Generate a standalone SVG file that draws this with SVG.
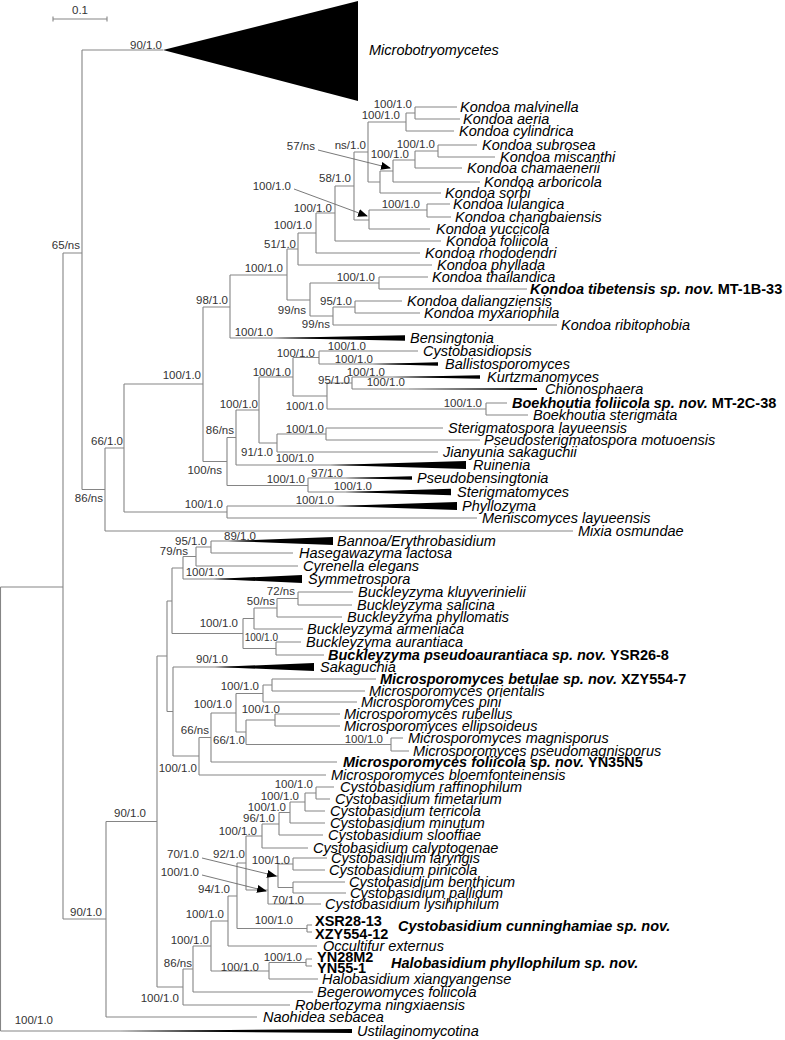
<svg xmlns="http://www.w3.org/2000/svg" width="785" height="1040" viewBox="0 0 785 1040">
<style>
.br{fill:none;stroke:#858585;stroke-width:1.1}
.ar{fill:none;stroke:#6a6a6a;stroke-width:0.9}
.w{fill:#000}
text{font-family:"Liberation Sans",Arial,sans-serif}
.sp{font-size:14.5px;font-style:italic;fill:#000}
.b{font-weight:bold}
.up{font-style:normal}
.s{font-size:11.5px;fill:#333;text-anchor:end}
.ss{font-size:10px;fill:#333;text-anchor:end}
</style>
<defs>
<marker id="ah" markerWidth="10" markerHeight="8" refX="9" refY="4" orient="auto" markerUnits="userSpaceOnUse">
<path d="M0,0 L10,4 L0,8 Z" fill="#000"/>
</marker>
</defs>
<rect width="785" height="1040" fill="#fff"/>
<g id="scalebar">
<path class="br" d="M53,19 H107 M53,16.5 V21.5 M107,16.5 V21.5"/>
<text x="80" y="14" font-size="11.5" fill="#333" text-anchor="middle">0.1</text>
</g>
<g id="connectors">
<path class="br" d="M0.5,587 V1031 M0.5,587 H63 M0.5,1031 H352
M63,253 V919 M63,253 H82 M63,919 H106
M82,50 V489.5 M82,50 H163 M82,489.5 H105
M105,448 V531 M105,448 H124 M105,531 H573
M124,384 V512 M124,384 H203 M124,512 H227
M227,506 V518 M227,506 H457 M227,518 H477
M203,307 V461.5 M203,307 H230 M203,461.5 H227
M227,437.5 V485.5 M227,437.5 H236 M227,485.5 H308
M308,478 V492 M308,478 H412 M308,492 H451
M236,410 V465 M236,410 H259 M236,465 H466
M259,377 V443 M259,377 H293 M259,443 H277
M277,434 V452 M277,434 H326 M277,452 H438
M326,428 V440 M326,428 H443 M326,440 H480
M293,357.5 V396 M293,357.5 H319 M293,396 H327
M319,351 V364 M319,351 H418 M319,364 H438
M327,383 V409 M327,383 H352 M327,409 H486
M352,377 V389 M352,377 H480 M352,389 H537
M486,403 V415 M486,403 H507 M486,415 H528
M230,275 V338 M230,275 H287 M230,338 H405
M287,249 V300 M287,249 H298 M287,300 H310
M310,283 V316 M310,283 H379 M310,316 H333
M379,277 V289 M379,277 H428 M379,289 H527
M333,307 V325 M333,307 H355 M333,325 H557
M355,301 V313 M355,301 H402 M355,313 H420
M298,233 V265 M298,233 H316 M298,265 H432
M316,213 V253 M316,213 H335 M316,253 H420
M335,186 V241 M335,186 H354 M335,241 H441
M354,152 V220 M354,152 H368 M354,220 H369
M369,210 V229 M369,210 H427 M369,229 H430
M427,204 V217 M427,204 H450 M427,217 H451
M368,122 V182 M368,122 H406 M368,182 H380
M406,113 V131 M406,113 H415 M406,131 H454
M415,107 V119 M415,107 H457 M415,119 H460
M380,171 V193 M380,171 H393 M380,193 H441
M393,160 V182 M393,160 H415 M393,182 H480
M415,151 V168 M415,151 H438 M415,168 H462
M438,145 V157 M438,145 H477 M438,157 H495
M106,821.5 V1017 M106,821.5 H157 M106,1017 H257
M157,656 V987 M157,656 H167 M157,987 H183
M167,601 V711.5 M167,601 H172 M167,711.5 H173
M172,568 V633.5 M172,568 H183 M172,633.5 H243
M183,556.5 V579 M183,556.5 H196 M183,579 H302
M196,547 V566 M196,547 H211 M196,566 H298
M211,541 V553 M211,541 H333 M211,553 H293
M243,618.5 V648.5 M243,618.5 H254 M243,648.5 H276
M254,608 V629 M254,608 H277 M254,629 H303
M277,598.5 V617 M277,598.5 H298 M277,617 H342
M298,592 V605 M298,592 H353 M298,605 H352
M276,642 V655 M276,642 H301 M276,655 H324
M173,667 V756 M173,667 H314 M173,756 H199
M199,737.5 V775 M199,737.5 H211 M199,775 H326
M211,713 V762 M211,713 H236 M211,762 H337
M236,693.5 V732 M236,693.5 H263 M236,732 H246
M263,685 V702 M263,685 H272 M263,702 H357
M272,679 V691 M272,679 H376 M272,691 H365
M246,720 V744.5 M246,720 H275 M246,744.5 H391
M275,714 V726 M275,714 H340 M275,726 H340
M391,738 V751 M391,738 H403 M391,751 H409
M183,969 V1005 M183,969 H193 M183,1005 H290
M193,946 V992 M193,946 H211 M193,992 H313
M211,921 V971 M211,921 H228 M211,971 H269
M269,962.5 V979 M269,962.5 H306 M269,979 H318
M306,959 V966 M306,959 H312 M306,966 H312
M228,896 V946 M228,896 H237 M228,946 H317
M237,863 V928.5 M237,863 H246 M237,928.5 H307
M307,925 V932 M307,925 H312 M307,932 H312
M246,836 V890 M246,836 H262 M246,890 H268
M262,824 V848 M262,824 H279 M262,848 H308
M279,812.5 V835 M279,812.5 H290 M279,835 H323
M290,802 V823 M290,802 H305 M290,823 H325
M305,793 V811 M305,793 H316 M305,811 H325
M316,787 V799 M316,787 H334 M316,799 H330
M268,876 V904 M268,876 H278 M268,904 H321
M278,864 V887.5 M278,864 H293 M278,887.5 H293
M293,858 V870 M293,858 H327 M293,870 H325
M293,882 V893 M293,882 H345 M293,893 H346"/>
<path class="ar" marker-end="url(#ah)" d="M318,150 L390,168"/>
<path class="ar" marker-end="url(#ah)" d="M294,189 L367,216"/>
<path class="ar" marker-end="url(#ah)" d="M202,858 L276,876"/>
<path class="ar" marker-end="url(#ah)" d="M202,875 L266,891"/>
</g>
<g id="wedges">
<polygon class="w" points="163,50 358,1 358,101"/>
<polygon class="w" points="272,338 405,335.3 405,340.7"/>
<polygon class="w" points="372,364 438,362.3 438,365.7"/>
<polygon class="w" points="392,377 480,375.2 480,378.8"/>
<polygon class="w" points="405,389 537,388 537,390"/>
<polygon class="w" points="330,465 466,461 466,469"/>
<polygon class="w" points="345,478 412,476.2 412,479.8"/>
<polygon class="w" points="345,492 451,488.7 451,495.3"/>
<polygon class="w" points="335,506 457,502 457,510"/>
<polygon class="w" points="228,541 333,537 333,545"/>
<polygon class="w" points="213,579 302,575 302,583"/>
<polygon class="w" points="215,667 314,663 314,671"/>
<polygon class="w" points="120,1031 352,1029 352,1033"/>
</g>
<g id="tips">
<g id="t-microbotryomycetes"><text class="sp" x="369" y="55">Microbotryomycetes</text></g>
<g id="t-malvinella"><text class="sp" x="460" y="112">Kondoa malvinella</text></g>
<g id="t-aeria"><text class="sp" x="463" y="124">Kondoa aeria</text></g>
<g id="t-cylindrica"><text class="sp" x="459" y="136">Kondoa cylindrica</text></g>
<g id="t-subrosea"><text class="sp" x="482" y="150">Kondoa subrosea</text></g>
<g id="t-miscanthi"><text class="sp" x="500" y="162">Kondoa miscanthi</text></g>
<g id="t-chamaenerii"><text class="sp" x="467" y="173">Kondoa chamaenerii</text></g>
<g id="t-arboricola"><text class="sp" x="484" y="187">Kondoa arboricola</text></g>
<g id="t-sorbi"><text class="sp" x="445" y="198">Kondoa sorbi</text></g>
<g id="t-lulangica"><text class="sp" x="453" y="209">Kondoa lulangica</text></g>
<g id="t-changbaiensis"><text class="sp" x="455" y="222">Kondoa changbaiensis</text></g>
<g id="t-yuccicola"><text class="sp" x="436" y="234">Kondoa yuccicola</text></g>
<g id="t-foliicola"><text class="sp" x="446" y="246">Kondoa foliicola</text></g>
<g id="t-rhododendri"><text class="sp" x="425" y="258">Kondoa rhododendri</text></g>
<g id="t-phyllada"><text class="sp" x="437" y="270">Kondoa phyllada</text></g>
<g id="t-thailandica"><text class="sp" x="432" y="282">Kondoa thailandica</text></g>
<g id="t-tibetensis"><text class="sp b" x="530" y="294">Kondoa tibetensis sp. nov. <tspan class="up">MT-1B-33</tspan></text></g>
<g id="t-daliangziensis"><text class="sp" x="407" y="306">Kondoa daliangziensis</text></g>
<g id="t-myxariophila"><text class="sp" x="424" y="318">Kondoa myxariophila</text></g>
<g id="t-ribitophobia"><text class="sp" x="561" y="330">Kondoa ribitophobia</text></g>
<g id="t-bensingtonia"><text class="sp" x="410" y="343">Bensingtonia</text></g>
<g id="t-cystobasidiopsis"><text class="sp" x="423" y="356">Cystobasidiopsis</text></g>
<g id="t-ballistosporomyces"><text class="sp" x="445" y="369">Ballistosporomyces</text></g>
<g id="t-kurtzmanomyces"><text class="sp" x="487" y="382">Kurtzmanomyces</text></g>
<g id="t-chionosphaera"><text class="sp" x="545" y="394">Chionosphaera</text></g>
<g id="t-boekhoutia-foliicola"><text class="sp b" x="512" y="408">Boekhoutia foliicola sp. nov. <tspan class="up">MT-2C-38</tspan></text></g>
<g id="t-boekhoutia-sterigmata"><text class="sp" x="533" y="420">Boekhoutia sterigmata</text></g>
<g id="t-sterigmatospora"><text class="sp" x="448" y="433">Sterigmatospora layueensis</text></g>
<g id="t-pseudosterigmatospora"><text class="sp" x="484" y="445">Pseudosterigmatospora motuoensis</text></g>
<g id="t-jianyunia"><text class="sp" x="443" y="457">Jianyunia sakaguchii</text></g>
<g id="t-ruinenia"><text class="sp" x="473" y="470">Ruinenia</text></g>
<g id="t-pseudobensingtonia"><text class="sp" x="417" y="483">Pseudobensingtonia</text></g>
<g id="t-sterigmatomyces"><text class="sp" x="457" y="497">Sterigmatomyces</text></g>
<g id="t-phyllozyma"><text class="sp" x="462" y="511">Phyllozyma</text></g>
<g id="t-meniscomyces"><text class="sp" x="482" y="523">Meniscomyces layueensis</text></g>
<g id="t-mixia"><text class="sp" x="578" y="536">Mixia osmundae</text></g>
<g id="t-bannoa"><text class="sp" x="337" y="546">Bannoa/Erythrobasidium</text></g>
<g id="t-hasegawazyma"><text class="sp" x="299" y="558">Hasegawazyma lactosa</text></g>
<g id="t-cyrenella"><text class="sp" x="303" y="571">Cyrenella elegans</text></g>
<g id="t-symmetrospora"><text class="sp" x="308" y="584">Symmetrospora</text></g>
<g id="t-kluyverinielii"><text class="sp" x="358" y="597">Buckleyzyma kluyverinielii</text></g>
<g id="t-salicina"><text class="sp" x="357" y="610">Buckleyzyma salicina</text></g>
<g id="t-phyllomatis"><text class="sp" x="347" y="622">Buckleyzyma phyllomatis</text></g>
<g id="t-armeniaca"><text class="sp" x="307" y="634">Buckleyzyma armeniaca</text></g>
<g id="t-aurantiaca"><text class="sp" x="306" y="647">Buckleyzyma aurantiaca</text></g>
<g id="t-pseudoaurantiaca"><text class="sp b" x="328" y="660">Buckleyzyma pseudoaurantiaca sp. nov. <tspan class="up">YSR26-8</tspan></text></g>
<g id="t-sakaguchia"><text class="sp" x="320" y="672">Sakaguchia</text></g>
<g id="t-betulae"><text class="sp b" x="380" y="684">Microsporomyces betulae sp. nov. <tspan class="up">XZY554-7</tspan></text></g>
<g id="t-orientalis"><text class="sp" x="369" y="696">Microsporomyces orientalis</text></g>
<g id="t-pini"><text class="sp" x="361" y="707">Microsporomyces pini</text></g>
<g id="t-rubellus"><text class="sp" x="344" y="719">Microsporomyces rubellus</text></g>
<g id="t-ellipsoideus"><text class="sp" x="344" y="731">Microsporomyces ellipsoideus</text></g>
<g id="t-magnisporus"><text class="sp" x="408" y="743">Microsporomyces magnisporus</text></g>
<g id="t-pseudomagnisporus"><text class="sp" x="413" y="756">Microsporomyces pseudomagnisporus</text></g>
<g id="t-m-foliicola"><text class="sp b" x="343" y="767">Microsporomyces foliicola  sp. nov. <tspan class="up">YN35N5</tspan></text></g>
<g id="t-bloemfonteinensis"><text class="sp" x="331" y="780">Microsporomyces bloemfonteinensis</text></g>
<g id="t-raffinophilum"><text class="sp" x="340" y="792">Cystobasidium raffinophilum</text></g>
<g id="t-fimetarium"><text class="sp" x="335" y="804">Cystobasidium fimetarium</text></g>
<g id="t-terricola"><text class="sp" x="330" y="816">Cystobasidium terricola</text></g>
<g id="t-minutum"><text class="sp" x="330" y="828">Cystobasidium minutum</text></g>
<g id="t-slooffiae"><text class="sp" x="328" y="840">Cystobasidium slooffiae</text></g>
<g id="t-calyptogenae"><text class="sp" x="313" y="853">Cystobasidium calyptogenae</text></g>
<g id="t-laryngis"><text class="sp" x="331" y="863">Cystobasidium laryngis</text></g>
<g id="t-pinicola"><text class="sp" x="329" y="875">Cystobasidium pinicola</text></g>
<g id="t-benthicum"><text class="sp" x="349" y="887">Cystobasidium benthicum</text></g>
<g id="t-pallidum"><text class="sp" x="350" y="898">Cystobasidium pallidum</text></g>
<g id="t-lysihiphilum"><text class="sp" x="325" y="909">Cystobasidium lysihiphilum</text></g>
<g id="t-xsr"><text class="sp b up" x="315" y="926">XSR28-13</text><text class="sp b up" x="315" y="939">XZY554-12</text><text class="sp b" x="398" y="931">Cystobasidium cunninghamiae sp. nov.</text></g>
<g id="t-occultifur"><text class="sp" x="323" y="951">Occultifur externus</text></g>
<g id="t-yn"><text class="sp b up" x="317" y="962">YN28M2</text><text class="sp b up" x="317" y="973">YN55-1</text><text class="sp b" x="391" y="968">Halobasidium phyllophilum  sp. nov.</text></g>
<g id="t-xiangyangense"><text class="sp" x="322" y="984">Halobasidium xiangyangense</text></g>
<g id="t-begerowomyces"><text class="sp" x="317" y="997">Begerowomyces foliicola</text></g>
<g id="t-robertozyma"><text class="sp" x="295" y="1010">Robertozyma ningxiaensis</text></g>
<g id="t-naohidea"><text class="sp" x="263" y="1022">Naohidea sebacea</text></g>
<g id="t-ustilaginomycotina"><text class="sp" x="357" y="1036">Ustilaginomycotina</text></g>
</g>
<g id="supports">
<text class="s" x="162" y="49">90/1.0</text>
<text class="s" x="80" y="249">65/ns</text>
<text class="s" x="412" y="108">100/1.0</text>
<text class="s" x="400" y="119">100/1.0</text>
<text class="s" x="435" y="148">100/1.0</text>
<text class="s" x="366" y="149">ns/1.0</text>
<text class="s" x="409" y="158">100/1.0</text>
<text class="s" x="315" y="150">57/ns</text>
<text class="s" x="351" y="182">58/1.0</text>
<text class="s" x="291" y="190">100/1.0</text>
<text class="s" x="420" y="208">100/1.0</text>
<text class="s" x="332" y="212">100/1.0</text>
<text class="s" x="312" y="229">100/1.0</text>
<text class="s" x="296" y="248">51/1.0</text>
<text class="s" x="283" y="272">100/1.0</text>
<text class="s" x="375" y="281">100/1.0</text>
<text class="s" x="352" y="305">95/1.0</text>
<text class="s" x="306" y="314">99/ns</text>
<text class="s" x="330" y="328">99/ns</text>
<text class="s" x="228" y="304">98/1.0</text>
<text class="s" x="273" y="336">100/1.0</text>
<text class="s" x="366" y="350">100/1.0</text>
<text class="s" x="315" y="357">100/1.0</text>
<text class="s" x="373" y="363">100/1.0</text>
<text class="s" x="291" y="376">100/1.0</text>
<text class="s" x="385" y="376">100/1.0</text>
<text class="s" x="350" y="384">95/1.0</text>
<text class="s" x="201" y="379">100/1.0</text>
<text class="s" x="405" y="386">100/1.0</text>
<text class="s" x="258" y="408">100/1.0</text>
<text class="s" x="482" y="407">100/1.0</text>
<text class="s" x="324" y="410">100/1.0</text>
<text class="s" x="234" y="434">86/ns</text>
<text class="s" x="324" y="433">100/1.0</text>
<text class="s" x="123" y="445">66/1.0</text>
<text class="s" x="273" y="456">91/1.0</text>
<text class="s" x="314" y="462">100/1.0</text>
<text class="s" x="222" y="474">100/ns</text>
<text class="s" x="343" y="477">97/1.0</text>
<text class="s" x="305" y="483">100/1.0</text>
<text class="s" x="372" y="490">100/1.0</text>
<text class="s" x="103" y="502">86/ns</text>
<text class="s" x="334" y="504">100/1.0</text>
<text class="s" x="223" y="508">100/1.0</text>
<text class="s" x="256" y="540">89/1.0</text>
<text class="s" x="207" y="545">95/1.0</text>
<text class="s" x="188" y="555">79/ns</text>
<text class="s" x="224" y="576">100/1.0</text>
<text class="s" x="295" y="595">72/ns</text>
<text class="s" x="275" y="605">50/ns</text>
<text class="s" x="238" y="627">100/1.0</text>
<text class="ss" x="278" y="641">100/1.0</text>
<text class="s" x="228" y="663">90/1.0</text>
<text class="s" x="259" y="690">100/1.0</text>
<text class="s" x="232" y="708">100/1.0</text>
<text class="s" x="280" y="713">100/1.0</text>
<text class="s" x="209" y="734">66/ns</text>
<text class="s" x="245" y="744">66/1.0</text>
<text class="s" x="383" y="743">100/1.0</text>
<text class="s" x="197" y="772">100/1.0</text>
<text class="s" x="313" y="788">100/1.0</text>
<text class="s" x="299" y="800">100/1.0</text>
<text class="s" x="286" y="811">100/1.0</text>
<text class="s" x="275" y="822">96/1.0</text>
<text class="s" x="146" y="817">90/1.0</text>
<text class="s" x="257" y="835">100/1.0</text>
<text class="s" x="245" y="858">92/1.0</text>
<text class="s" x="199" y="858">70/1.0</text>
<text class="s" x="290" y="864">100/1.0</text>
<text class="s" x="199" y="876">100/1.0</text>
<text class="s" x="230" y="893">94/1.0</text>
<text class="s" x="304" y="904">70/1.0</text>
<text class="s" x="102" y="916">90/1.0</text>
<text class="s" x="224" y="918">100/1.0</text>
<text class="s" x="293" y="924">100/1.0</text>
<text class="s" x="209" y="944">100/1.0</text>
<text class="s" x="302" y="961">100/1.0</text>
<text class="s" x="192" y="967">86/ns</text>
<text class="s" x="259" y="971">100/1.0</text>
<text class="s" x="179" y="1002">100/1.0</text>
<text class="s" x="53" y="1024">100/1.0</text>
</g>
</svg>
